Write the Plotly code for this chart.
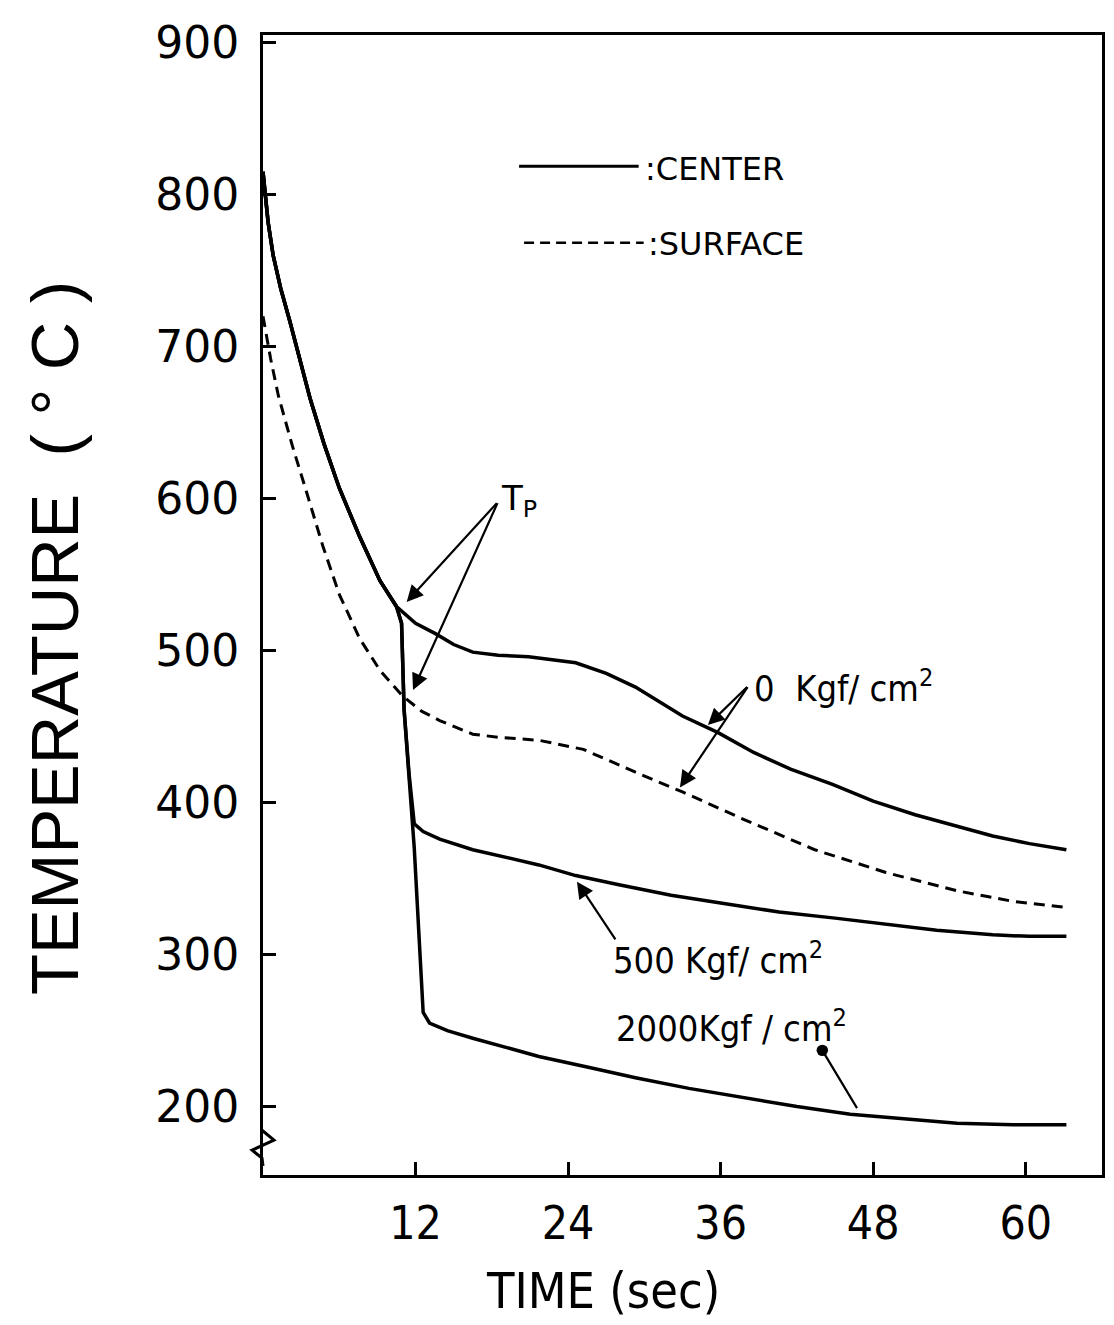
import plotly.graph_objects as go

# ---------------- data ----------------
t_center0 = [0, 0.4, 0.8, 1.4, 2.1, 2.9, 3.7, 4.8, 6.0, 7.6, 9.2, 10.5, 12.0, 13.6,
             15.0, 16.5, 18.5, 20.9, 24.6, 27.0, 29.3, 33.0, 35.8, 38.6, 41.5, 44.8,
             48.0, 51.3, 54.3, 57.4, 60.3, 63.2]
T_center0 = [815, 782, 760, 738, 717, 691, 666, 636, 607, 575, 546, 529, 518, 511,
             504, 499, 497, 496, 492, 485, 476, 457, 446, 433, 422, 412,
             401, 392, 385, 378, 373, 369]

t_surface0 = [0, 0.6, 1.2, 2.3, 3.4, 4.7, 6.0, 7.6, 9.2, 11.0, 12.5, 13.9, 16.5,
              18.5, 21.7, 25.2, 29.3, 33.0, 37.8, 43.4, 49.0, 54.6, 59.0, 63.2]
T_surface0 = [720, 692, 668, 635, 605, 569, 537, 508, 487, 470, 460, 454, 445,
              443, 441, 435, 420, 407, 389, 369, 354, 342, 335, 331]

t_center500 = [0, 0.4, 0.8, 1.4, 2.1, 2.9, 3.7, 4.8, 6.0, 7.6, 9.2, 10.5, 10.9, 11.1,
               11.5, 11.9, 12.6, 13.9, 16.5, 21.7, 24.6, 28.0, 32.1, 36.0, 40.6,
               45.0, 49.0, 53.0, 57.4, 60.3, 63.2]
T_center500 = [815, 782, 760, 738, 717, 691, 666, 636, 607, 575, 546, 529, 518, 461,
               418, 386, 381, 376, 369, 359, 352, 346, 339, 334, 328,
               324, 320, 316, 313, 312, 312]

t_center2000 = [0, 0.4, 0.8, 1.4, 2.1, 2.9, 3.7, 4.8, 6.0, 7.6, 9.2, 10.5, 10.9, 11.1,
                11.5, 11.9, 12.3, 12.6, 13.1, 14.5, 16.5, 19.0, 21.7, 25.5, 29.3,
                33.5, 37.8, 42.0, 46.2, 50.5, 54.6, 59.0, 63.2]
T_center2000 = [815, 782, 760, 738, 717, 691, 666, 636, 607, 575, 546, 529, 518, 461,
                418, 370, 308, 262, 255, 250, 245, 239, 233, 226, 219,
                212, 206, 200, 195, 192, 189, 188, 188]

x_ticks = [12, 24, 36, 48, 60]
y_ticks = [200, 300, 400, 500, 600, 700, 800, 900]

# ---------------- layout geometry (page pixels) ----------------
PAGE_W, PAGE_H = 1114, 1325
OFF = 8                      # default body margin of the html page
W, H = PAGE_W - OFF, PAGE_H - OFF
L, R, TOP, BOT = 263, 1105, 28, 1175   # plot area in page pixels


def px(x):
    return (x - L) / (R - L)


def py(y):
    return (BOT - y) / (BOT - TOP)


fig = go.Figure()
solid = dict(color="black", width=3.5)
fig.add_trace(go.Scatter(x=t_center500, y=T_center500, mode="lines", line=solid, showlegend=False))
fig.add_trace(go.Scatter(x=t_center2000, y=T_center2000, mode="lines", line=solid, showlegend=False))
fig.add_trace(go.Scatter(x=t_center0, y=T_center0, mode="lines", line=solid, showlegend=False))
fig.add_trace(go.Scatter(x=t_surface0, y=T_surface0, mode="lines",
                         line=dict(color="black", width=3, dash="11px,7px"), showlegend=False))

cond = "DejaVu Sans Condensed, DejaVu Sans"
txt_font = dict(family="DejaVu Sans", size=32, color="black")
lab_font = dict(family=cond, size=36, color="black")
arrow = dict(showarrow=True, arrowhead=2, arrowsize=1.5, arrowwidth=2.2, arrowcolor="black",
             axref="x", ayref="y", text="")

annotations = [
    # legend texts
    dict(x=px(644), y=py(163), xref="paper", yref="paper", text=":CENTER", showarrow=False,
         xanchor="left", yanchor="middle", font=txt_font),
    dict(x=px(647), y=py(238), xref="paper", yref="paper", text=":SURFACE", showarrow=False,
         xanchor="left", yanchor="middle", font=txt_font),
    # Tp
    dict(x=18.6, y=599, text="T<sub>P</sub>", showarrow=False, xanchor="left", yanchor="middle",
         font=dict(family="DejaVu Sans", size=34, color="black")),
    dict(x=11.3, y=532, ax=18.5, ay=598, **arrow),
    dict(x=11.8, y=474, ax=18.5, ay=598, **arrow),
    # 0 Kgf/cm2
    dict(x=38.5, y=477, text="0  Kgf/ cm<sup>2</sup>", showarrow=False, xanchor="left",
         yanchor="middle", font=lab_font),
    dict(x=35.0, y=451, ax=38.2, ay=477, **arrow),
    dict(x=32.8, y=410, ax=38.2, ay=477, **arrow),
    # 500 Kgf/cm2
    dict(x=27.4, y=298, text="500 Kgf/ cm<sup>2</sup>", showarrow=False, xanchor="left",
         yanchor="middle", font=lab_font),
    dict(x=24.7, y=348, ax=27.8, ay=309, **arrow),
    # 2000 Kgf/cm2
    dict(x=27.6, y=253, text="2000Kgf / cm<sup>2</sup>", showarrow=False, xanchor="left",
         yanchor="middle", font=lab_font),
    dict(x=44.0, y=237, ax=46.8, ay=198, axref="x", ayref="y", text="", showarrow=True,
         arrowhead=6, arrowsize=1.3, arrowwidth=2.2, arrowcolor="black"),
    # axis titles
    dict(x=px(54), y=py(635), xref="paper", yref="paper", text="TEMPERATURE  ( ° C )",
         showarrow=False, textangle=-90, xanchor="center", yanchor="middle",
         font=dict(family="Liberation Sans, Arial, sans-serif", size=67, color="black")),
    dict(x=px(604), y=py(1292), xref="paper", yref="paper", text="TIME (sec)",
         showarrow=False, xanchor="center", yanchor="middle",
         font=dict(family=cond, size=50, color="black")),
]

shapes = [
    # legend sample lines
    dict(type="line", xref="paper", yref="paper", x0=px(520), x1=px(640), y0=py(160), y1=py(160),
         line=dict(color="black", width=3)),
    dict(type="line", xref="paper", yref="paper", x0=px(525), x1=px(645), y0=py(237), y1=py(237),
         line=dict(color="black", width=2.5, dash="10px,6px")),
    # axis break mark
    dict(type="path", xref="paper", yref="paper",
         path=f"M {px(262)} {py(1130)} L {px(274)} {py(1140)} L {px(252)} {py(1150)} "
              f"L {px(262)} {py(1158)} L {px(263)} {py(1166)}",
         line=dict(color="black", width=3)),
]

fig.update_layout(
    width=W, height=H, autosize=False,
    margin=dict(l=L - OFF, r=(W + OFF) - R, t=TOP - OFF, b=(H + OFF) - BOT, pad=0),
    plot_bgcolor="white", paper_bgcolor="white",
    annotations=annotations, shapes=shapes,
    xaxis=dict(range=[0, 66], tickvals=x_ticks, ticktext=[str(v) for v in x_ticks],
               showgrid=False, zeroline=False, showline=True, linecolor="black", linewidth=3,
               mirror=True, ticks="inside", ticklen=13, tickwidth=3, tickcolor="black",
               ticklabelstandoff=6,
               tickfont=dict(family=cond, size=46, color="black")),
    yaxis=dict(range=[155, 905], tickvals=y_ticks, ticktext=[str(v) for v in y_ticks],
               showgrid=False, zeroline=False, showline=True, linecolor="black", linewidth=3,
               mirror=True, ticks="inside", ticklen=13, tickwidth=3, tickcolor="black",
               ticklabelstandoff=12,
               tickfont=dict(family="DejaVu Sans", size=44, color="black")),
)

fig.write_html("out.html")
